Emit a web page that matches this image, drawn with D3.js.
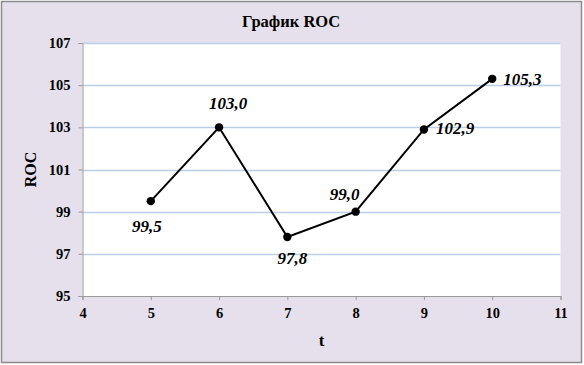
<!DOCTYPE html>
<html><head><meta charset="utf-8">
<script src="https://cdn.jsdelivr.net/npm/d3@7"></script>
<style>
html,body{margin:0;padding:0;background:#fff;}
svg{display:block;}
text{font-family:"Liberation Serif","Times New Roman",serif;}
</style></head>
<body>
<script>
const tValues = [5, 6, 7, 8, 9, 10];
const rocValues = [99.5, 103.0, 97.8, 99.0, 102.9, 105.3];
const pointLabels = ["99,5", "103,0", "97,8", "99,0", "102,9", "105,3"];
const xTicks = [4, 5, 6, 7, 8, 9, 10, 11];
const yTicks = [95, 97, 99, 101, 103, 105, 107];
const title = "График ROC";
const xTitle = "t";
const yTitle = "ROC";

const W = 584, H = 365;
const svg = d3.select("body").append("svg").attr("width", W).attr("height", H);

svg.append("rect").attr("x", 1.5).attr("y", 1.5).attr("width", 580).attr("height", 361)
  .attr("fill", "#e5e0ec").attr("stroke", "#8c8c8c").attr("stroke-width", 1.5);

const x = d3.scaleLinear().domain([4, 11]).range([82.5, 560.5]);
const y = d3.scaleLinear().domain([95, 107]).range([296, 43]);

svg.append("rect").attr("x", x(4)).attr("y", y(107)).attr("width", x(11) - x(4)).attr("height", y(95) - y(107))
  .attr("fill", "#ffffff");

// gridlines
svg.append("g").selectAll("line").data(yTicks.filter(d => d > 95)).join("line")
  .attr("x1", x(4)).attr("x2", x(11))
  .attr("y1", d => Math.round(y(d)) + 0.5).attr("y2", d => Math.round(y(d)) + 0.5)
  .attr("stroke", "#bccfe8").attr("stroke-width", 1.5);

// axes
const yAxis = d3.axisLeft(y).tickValues(yTicks).tickSize(4).tickPadding(8).tickFormat(d3.format("d"));
const gy = svg.append("g").attr("transform", `translate(${x(4)},0)`).call(yAxis);
const xAxis = d3.axisBottom(x).tickValues(xTicks).tickSize(4).tickPadding(8).tickFormat(d3.format("d"));
const gx = svg.append("g").attr("transform", `translate(0,${y(95)})`).call(xAxis);
[gx, gy].forEach(g => {
  g.select(".domain").attr("stroke", "#9a9a9a");
  g.selectAll(".tick line").attr("stroke", "#9a9a9a");
  g.selectAll(".tick text").attr("fill", "#000").attr("font-size", 14.5).attr("font-weight", "bold")
    .style("font-family", '"Liberation Serif", serif');
});

// line
const line = d3.line().x((d, i) => x(tValues[i])).y(d => y(d));
svg.append("path").datum(rocValues).attr("d", line).attr("fill", "none")
  .attr("stroke", "#000").attr("stroke-width", 2);
svg.append("g").selectAll("circle").data(rocValues).join("circle")
  .attr("cx", (d, i) => x(tValues[i])).attr("cy", d => y(d)).attr("r", 4.2).attr("fill", "#000");

// point labels
const offs = [[-4, 31, "middle"], [9, -18, "middle"], [5, 27, "middle"], [-11, -12, "middle"], [12, 5, "start"], [11, 6, "start"]];
svg.append("g").selectAll("text").data(rocValues).join("text")
  .attr("x", (d, i) => x(tValues[i]) + offs[i][0])
  .attr("y", (d, i) => y(d) + offs[i][1])
  .attr("text-anchor", (d, i) => offs[i][2])
  .attr("font-size", 17).attr("font-weight", "bold").attr("font-style", "italic")
  .text((d, i) => pointLabels[i]);

// titles
svg.append("text").attr("x", 291).attr("y", 27).attr("text-anchor", "middle")
  .attr("font-size", 16.5).attr("font-weight", "bold").text(title);
svg.append("text").attr("x", (x(4) + x(11)) / 2).attr("y", 346).attr("text-anchor", "middle")
  .attr("font-size", 17).attr("font-weight", "bold").text(xTitle);
svg.append("text").attr("transform", `translate(36,${(y(95) + y(107)) / 2}) rotate(-90)`).attr("text-anchor", "middle")
  .attr("font-size", 16).attr("font-weight", "bold").text(yTitle);
</script>
</body></html>
